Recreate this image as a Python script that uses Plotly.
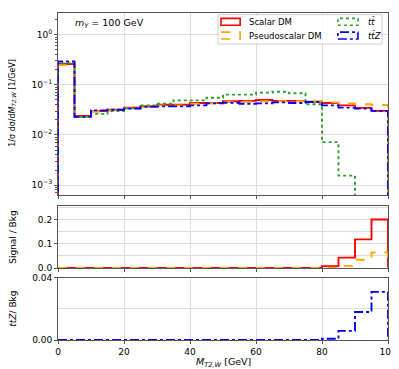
import plotly.graph_objects as go
from plotly.subplots import make_subplots

# bin edges of M_T2,W in GeV (5 GeV bins)
edges = [0, 5, 10, 15, 20, 25, 30, 35, 40, 45, 50, 55, 60, 65, 70, 75, 80, 85, 90, 95, 100]

# normalised distributions
scalar = [0.26, 0.024, 0.030, 0.032, 0.035, 0.037, 0.040, 0.040, 0.0435, 0.0435,
          0.047, 0.048, 0.050, 0.048, 0.048, 0.046, 0.0435, 0.039, 0.0347, 0.0303]
pseudo = [0.25, 0.023, 0.029, 0.031, 0.034, 0.036, 0.039, 0.039, 0.042, 0.043,
          0.046, 0.046, 0.047, 0.047, 0.047, 0.047, 0.0448, 0.0428, 0.041, 0.0397]
ttbar = [0.27, 0.023, 0.0264, 0.030, 0.034, 0.039, 0.042, 0.049, 0.049, 0.0555,
         0.064, 0.064, 0.070, 0.073, 0.068, 0.041, 0.0072, 0.00155, 0.0, 0.0]
ttz = [0.293, 0.023, 0.031, 0.032, 0.0336, 0.0368, 0.0373, 0.0373, 0.039, 0.0428,
       0.0441, 0.042, 0.0428, 0.0448, 0.0435, 0.0456, 0.039, 0.0352, 0.0336, 0.0303]

# ratio panels
sb_scalar = [0, 0, 0, 0, 0, 0, 0, 0, 0, 0, 0, 0, 0, 0, 0, 0, 0.008, 0.043, 0.118, 0.200]
sb_pseudo = [0, 0, 0, 0, 0, 0, 0, 0, 0, 0, 0, 0, 0, 0, 0, 0, 0.001, 0.009, 0.034, 0.064]
ttz_bkg = [0, 0, 0, 0, 0, 0, 0, 0, 0, 0, 0, 0, 0, 0, 0, 0, 0.0008, 0.0059, 0.018, 0.031]

FONT = "DejaVu Sans"
GRID = "#dcdcdc"
SPINE = "#555555"


def step(values, floor):
    # matplotlib-style 'step' histogram outline, dropping to the baseline at both ends
    xs = [edges[0]] + edges
    ys = [floor] + [v if v > 0 else floor for v in values] + [floor]
    return xs, ys


fig = make_subplots(rows=3, cols=1, shared_xaxes=True)

series = [
    ("Scalar DM", scalar, "#ff0000", "solid"),
    ("Pseudoscalar DM", pseudo, "#ffa500", "dash"),
    ("<i>tt̄</i>", ttbar, "#2ca02c", "dot"),
    ("<i>tt̄Z</i>", ttz, "#0000ff", "dashdot"),
]
for name, vals, col, dash in series:
    xs, ys = step(vals, 1e-6)
    fig.add_trace(go.Scatter(x=xs, y=ys, mode="lines", line_shape="hv", name=name, showlegend=False,
                             line=dict(color=col, width=1.9, dash=dash)), row=1, col=1)

for vals, col, dash in [(sb_scalar, "#ff0000", "solid"), (sb_pseudo, "#ffa500", "dash")]:
    xs, ys = step(vals, 0)
    fig.add_trace(go.Scatter(x=xs, y=ys, mode="lines", line_shape="hv", showlegend=False,
                             line=dict(color=col, width=1.9, dash=dash)), row=2, col=1)

xs, ys = step(ttz_bkg, 0)
fig.add_trace(go.Scatter(x=xs, y=ys, mode="lines", line_shape="hv", showlegend=False,
                         line=dict(color="#0000ff", width=1.9, dash="dashdot")), row=3, col=1)

axis_common = dict(showline=True, mirror=True, linecolor=SPINE, linewidth=1,
                   ticks="outside", ticklen=3, tickcolor=SPINE, showgrid=True,
                   gridcolor=GRID, gridwidth=1, zeroline=False)

for i in (1, 2, 3):
    fig.update_xaxes(range=[0, 100], dtick=20, showticklabels=(i == 3), row=i, col=1, **axis_common)

fig.update_yaxes(type="log", range=[-3.2, 0.434], tickvals=[1e-3, 1e-2, 1e-1, 1],
                 ticktext=["10<sup>−3</sup>", "10<sup>−2</sup>", "10<sup>−1</sup>", "10<sup>0</sup>"],
                 minor=dict(ticks="outside", ticklen=2, tickcolor=SPINE, showgrid=False,
                            tickvals=[k * 10.0 ** e for e in range(-4, 1) for k in range(2, 10)]),
                 row=1, col=1, **axis_common)
fig.update_yaxes(range=[0, 0.256], dtick=0.1, tickformat=".1f",
                 minor=dict(dtick=0.05, showgrid=True, gridcolor=GRID, ticks=""),
                 row=2, col=1, **axis_common)
fig.update_yaxes(range=[0, 0.04], tickvals=[0, 0.04], tickformat=".2f",
                 minor=dict(tickvals=[0.02], showgrid=True, gridcolor=GRID, ticks=""),
                 row=3, col=1, **axis_common)

# panel placement; the page adds an 8px body margin, so the figure is a bit smaller
fig.update_layout(
    yaxis=dict(domain=[0.443, 1.0]),
    yaxis2=dict(domain=[0.220, 0.410]),
    yaxis3=dict(domain=[0.0, 0.190]),
)

# legend box drawn like matplotlib's (two columns, patch outlines)
fig.add_shape(type="rect", xref="paper", yref="paper", x0=0.485, x1=0.982, y0=0.905, y1=0.995,
              line=dict(color="#cccccc", width=1), fillcolor="rgba(255,255,255,0.85)", layer="above")
legend_slots = [(0.494, 0.552, 0.573, 0.973), (0.494, 0.552, 0.573, 0.931),
                (0.848, 0.909, 0.933, 0.973), (0.848, 0.909, 0.933, 0.931)]
for (name, _, col, dash), (gx0, gx1, tx, ty) in zip(series, legend_slots):
    fig.add_shape(type="rect", xref="paper", yref="paper", x0=gx0, x1=gx1, y0=ty - 0.0105, y1=ty + 0.0105,
                  line=dict(color=col, width=1.6, dash=dash), fillcolor="rgba(0,0,0,0)", layer="above")
    fig.add_annotation(text=name, xref="paper", yref="paper", x=tx, y=ty, xanchor="left",
                       yanchor="middle", showarrow=False, font=dict(size=8.5))

fig.add_annotation(text="<i>m</i><sub><i>Y</i></sub> = 100 GeV", xref="paper", yref="paper",
                   x=0.045, y=0.967, xanchor="left", yanchor="middle", showarrow=False,
                   font=dict(size=9.5))
fig.add_annotation(text="1/σ dσ/d<i>M</i><sub><i>T2,W</i></sub> [1/GeV]", xref="paper", yref="paper",
                   x=-0.139, y=0.726, xanchor="center", yanchor="middle", textangle=-90,
                   showarrow=False, font=dict(size=8))
fig.add_annotation(text="Signal / Bkg", xref="paper", yref="paper",
                   x=-0.136, y=0.316, xanchor="center", yanchor="middle", textangle=-90,
                   showarrow=False, font=dict(size=9))
fig.add_annotation(text="<i>tt̄Z</i>/ Bkg", xref="paper", yref="paper",
                   x=-0.136, y=0.096, xanchor="center", yanchor="middle", textangle=-90,
                   showarrow=False, font=dict(size=9))
fig.add_annotation(text="<i>M</i><sub><i>T2,W</i></sub> [GeV]", xref="paper", yref="paper",
                   x=0.5, y=-0.07, xanchor="center", yanchor="middle", showarrow=False,
                   font=dict(size=9.5))

fig.update_layout(
    width=391, height=361,
    margin=dict(l=50, r=11, t=0, b=29),
    font=dict(family=FONT, size=9, color="#000000"),
    paper_bgcolor="white", plot_bgcolor="white",
    showlegend=False,
)

fig.write_html("out.html")
